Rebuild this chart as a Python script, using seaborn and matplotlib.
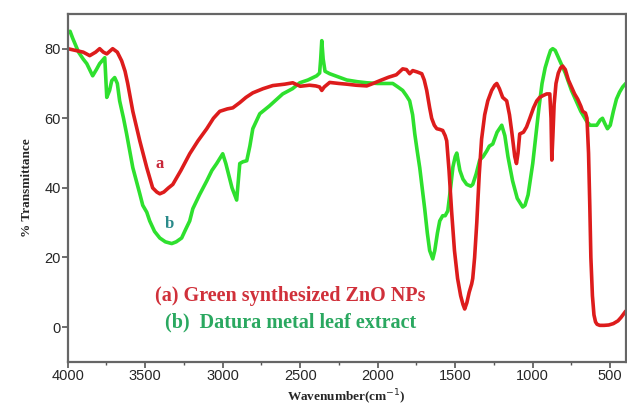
import numpy as np
import pandas as pd
import matplotlib
matplotlib.use("Agg")
import matplotlib.pyplot as plt
import seaborn as sns

# FTIR spectra
# (a) green synthesized ZnO NPs
wn_a = [4000, 3950, 3900, 3858, 3820, 3794, 3770, 3748, 3710, 3680, 3652, 3630, 3613,
        3580, 3535, 3490, 3452, 3425, 3406, 3380, 3350, 3322, 3270, 3213, 3160, 3103,
        3060, 3019, 2970, 2935, 2890, 2850, 2806, 2740, 2677, 2600, 2548, 2500, 2440,
        2400, 2375, 2361, 2345, 2310, 2250, 2200, 2140, 2071, 2030, 1987, 1930, 1880,
        1839, 1815, 1794, 1774, 1745, 1716, 1700, 1684, 1665, 1652, 1635, 1619, 1600,
        1581, 1565, 1555, 1540, 1523, 1505, 1485, 1465, 1450, 1439, 1425, 1410, 1394,
        1387, 1375, 1361, 1345, 1330, 1310, 1290, 1265, 1245, 1232, 1215, 1194, 1168,
        1150, 1135, 1116, 1105, 1095, 1084, 1060, 1040, 1019, 995, 974, 955, 935, 910,
        890, 882, 877, 870, 862, 850, 835, 820, 807, 790, 770, 750, 730, 710, 690, 678,
        660, 650, 640, 632, 625, 615, 605, 595, 585, 568, 540, 510, 480, 450, 430, 410,
        400]
t_a = [80, 79.5, 79, 78, 79, 80, 79, 78.5, 80, 79, 76.5, 73.5, 70,
       62, 53.5, 45.8, 40, 38.8, 38.3, 38.8, 40, 41, 45, 49.8, 53.5, 57,
       60, 62, 62.7, 63, 64.5, 66, 67.3, 68.5, 69.4, 69.8, 70.2, 69.2, 69.5,
       69.3, 69, 68, 69, 70.3, 70, 69.8, 69.5, 69.3, 70, 70.8, 71.8, 72.5,
       74.2, 74, 72.8, 73.7, 73.3, 72.8, 71, 68, 63, 60, 58, 57, 56.8,
       56.5, 55, 53.5, 45, 33, 22, 14, 9, 6.5, 5.2, 7, 10, 12.4,
       14, 20, 30, 44, 54, 61, 65, 68, 69.5, 70, 68.5, 66, 65,
       61, 56, 49, 47, 50, 55.5, 56, 57.5, 60, 63, 65, 66, 66.5, 67,
       67, 60, 48, 55, 64, 70, 73, 74.5, 75, 74, 71, 69, 67, 65.5, 63.5, 62,
       61.5, 60, 50, 35, 20, 9, 3.5, 1.5, 0.8, 0.5, 0.5, 0.6, 1, 1.8, 2.8, 4,
       4.6]

# (b) Datura metal leaf extract
wn_b = [4000, 3985, 3968, 3930, 3900, 3877, 3839, 3815, 3794, 3761, 3748, 3730, 3716,
        3697, 3680, 3665, 3640, 3620, 3580, 3535, 3516, 3490, 3471, 3440, 3406, 3370,
        3329, 3300, 3265, 3240, 3213, 3193, 3150, 3103, 3070, 3039, 3000, 2980, 2960,
        2940, 2910, 2890, 2870, 2845, 2825, 2806, 2761, 2700, 2613, 2550, 2503, 2450,
        2394, 2375, 2368, 2361, 2352, 2340, 2310, 2250, 2200, 2130, 2071, 2000, 1950,
        1903, 1870, 1839, 1815, 1794, 1775, 1761, 1745, 1729, 1713, 1697, 1680, 1665,
        1645, 1632, 1615, 1600, 1581, 1565, 1548, 1530, 1515, 1500, 1490, 1470, 1450,
        1426, 1400, 1387, 1365, 1342, 1320, 1297, 1280, 1258, 1230, 1200, 1180, 1160,
        1130, 1100, 1065, 1050, 1030, 1000, 980, 960, 940, 920, 900, 885, 871, 855,
        835, 815, 790, 770, 750, 730, 710, 690, 670, 650, 630, 610, 587, 565, 550,
        535, 518, 500, 480, 460, 440, 420, 400]
t_b = [84.6, 85, 83, 79, 77, 75.7, 72.2, 74, 75.7, 77.4, 66, 68, 70.8,
       71.7, 70, 65, 60, 55.5, 45.8, 38.3, 35, 33, 30.5, 27.5, 25.6, 24.5,
       24, 24.5, 25.6, 28, 30.5, 34, 38, 42, 45, 47, 49.8, 47, 43.5,
       40, 36.5, 47, 47.5, 47.8, 52, 57, 61.3, 63.5, 67, 68.5, 70.2, 71,
       72.2, 73, 77, 82.3, 77, 73.5, 72.8, 71.8, 71, 70.5, 70.2, 70, 70,
       70, 69, 68, 66.5, 65, 61, 55.5, 50.5, 45.8, 40, 34, 27, 22,
       19.6, 22, 27, 30.5, 32, 32, 33.4, 40, 46, 49, 50, 45, 42.5,
       41, 40.5, 41, 44, 48, 49, 50.6, 52, 52.6, 56, 58, 55, 49,
       42, 37, 34.5, 35, 38, 47, 55, 63, 70, 74.5, 77.5, 79.5, 80, 79.5,
       77.5, 75.5, 73, 70.5, 68, 66, 64, 62, 60.5, 59, 58, 58, 58, 59.5, 60,
       58.5, 57, 58, 62, 65.5, 67.5, 69, 70]

red = "#dd1c1c"
green = "#2ee02e"

sns.set_theme(style="ticks")
plt.rcParams["font.family"] = ["Liberation Sans", "DejaVu Sans"]

fig = plt.figure(figsize=(6.27, 4.08), dpi=100)
ax = fig.add_axes([0.108, 0.113, 0.89, 0.853])

df_a = pd.DataFrame({"wn": wn_a, "T": t_a})
df_b = pd.DataFrame({"wn": wn_b, "T": t_b})
sns.lineplot(data=df_b, x="wn", y="T", color=green, lw=2.6, sort=False, ax=ax)
sns.lineplot(data=df_a, x="wn", y="T", color=red, lw=2.6, sort=False, ax=ax)

ax.set_xlim(4000, 400)
ax.set_ylim(-10, 90)
ax.set_xticks([4000, 3500, 3000, 2500, 2000, 1500, 1000, 500])
ax.set_xticks(np.arange(3750, 400, -500), minor=True)
ax.set_yticks([0, 20, 40, 60, 80])
ax.tick_params(axis="both", which="major", direction="out", length=4, width=1.2,
               color="#555555", labelsize=10.5, pad=1)
ax.tick_params(axis="x", which="minor", direction="out", length=2.5, width=1,
               color="#555555")
for s in ax.spines.values():
    s.set_color("#666666")
    s.set_linewidth(1.6)
    s.set_visible(True)

serif = ["Liberation Serif", "DejaVu Serif"]
ax.set_xlabel("Wavenumber(cm$^{-1}$)", family=serif, fontweight="bold", fontsize=9.5,
              labelpad=4)
ax.set_ylabel("% Transmittance", family=serif, fontweight="bold", fontsize=9.5,
              labelpad=8)

ax.text(3407, 47, "a", color="#c8283a", family=serif, fontweight="bold", fontsize=12,
        ha="center", va="center")
ax.text(3342, 29.5, "b", color="#2a8a8a", family=serif, fontweight="bold", fontsize=12,
        ha="center", va="center")
ax.text(3440, 9, "(a) Green synthesized ZnO NPs", color="#d0303a", family=serif,
        fontweight="bold", fontsize=14.5, ha="left", va="center")
ax.text(3375, 1.3, "(b)  Datura metal leaf extract", color="#2aa860", family=serif,
        fontweight="bold", fontsize=14.5, ha="left", va="center")

fig.savefig("out.png", dpi=100)
